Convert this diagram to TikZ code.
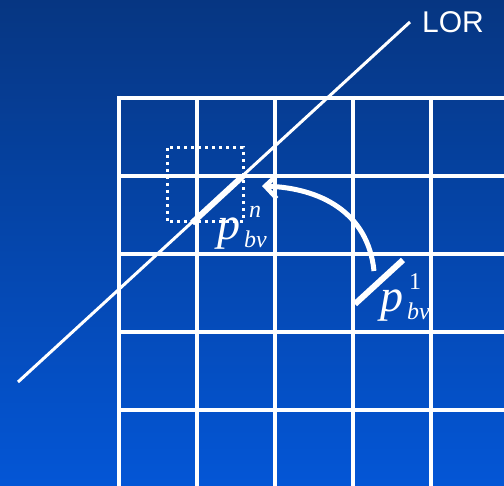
\documentclass[tikz,border=0pt]{standalone}
\usepackage{fontspec}
\setmainfont{Liberation Serif}
\newfontfamily\lorsans{Liberation Sans}
\usetikzlibrary{arrows.meta}
\definecolor{bgtop}{RGB}{6,54,130}
\definecolor{bgbot}{RGB}{4,86,214}
\newcommand{\pbvlabel}[2]{{\fontsize{46}{46}\selectfont\itshape p}\kern4pt\makebox[0pt][l]{\kern#2\raisebox{22pt}{\fontsize{24}{24}\selectfont #1}}\raisebox{-8pt}{\fontsize{24}{24}\selectfont\itshape bv}}
\tikzset{
  gridline/.style={draw=white, line width=4pt},
  lorline/.style={draw=white, line width=3pt},
  binseg/.style={draw=white, line width=6pt},
  dotbox/.style={draw=white, line width=3pt, dash pattern=on 3pt off 4pt},
  bigarrow/.style={draw=white, line width=5pt, -{Straight Barb[length=12pt,width=24pt,line width=4.5pt]}},
  lbl/.style={text=white, inner sep=0pt}
}
\begin{document}
\begin{tikzpicture}[x=1pt,y=-1pt]
\useasboundingbox (0,0) rectangle (504,486);
\shade[top color=bgtop, bottom color=bgbot] (0,0) rectangle (504,486);
% grid
\foreach \x in {119,197,275,353,431} {\draw[gridline] (\x,96) -- (\x,486);}
\foreach \y in {98,176,254,332,410} {\draw[gridline] (117,\y) -- (504,\y);}
% LOR line
\coordinate (lorA) at (18,382);
\coordinate (lorB) at (410,22);
\draw[lorline] (lorA) -- (lorB);
\node[lbl, anchor=base west, font=\lorsans\fontsize{30}{30}\selectfont] (lor) at (422,33) {LOR};
% dotted box
\draw[dotbox] (167,148) rectangle (243,222);
% bin segments
\coordinate (s1a) at (192,223);
\coordinate (s1b) at (243,176);
\draw[binseg] (s1a) -- (s1b);
\coordinate (s2a) at (355,304);
\coordinate (s2b) at (403,260);
\draw[binseg] (s2a) -- (s2b);
% labels
\node[lbl, anchor=base west] (pn) at (217,240) {\pbvlabel{\itshape n}{5pt}};
\node[lbl, anchor=base west] (p1) at (380,312) {\pbvlabel{1}{2pt}};
% arrow
\coordinate (arrS) at (374,271);
\coordinate (arrE) at (262,186);
\draw[bigarrow] (arrS) .. controls (368,212) and (320,188) .. (arrE);
\end{tikzpicture}
\end{document}
